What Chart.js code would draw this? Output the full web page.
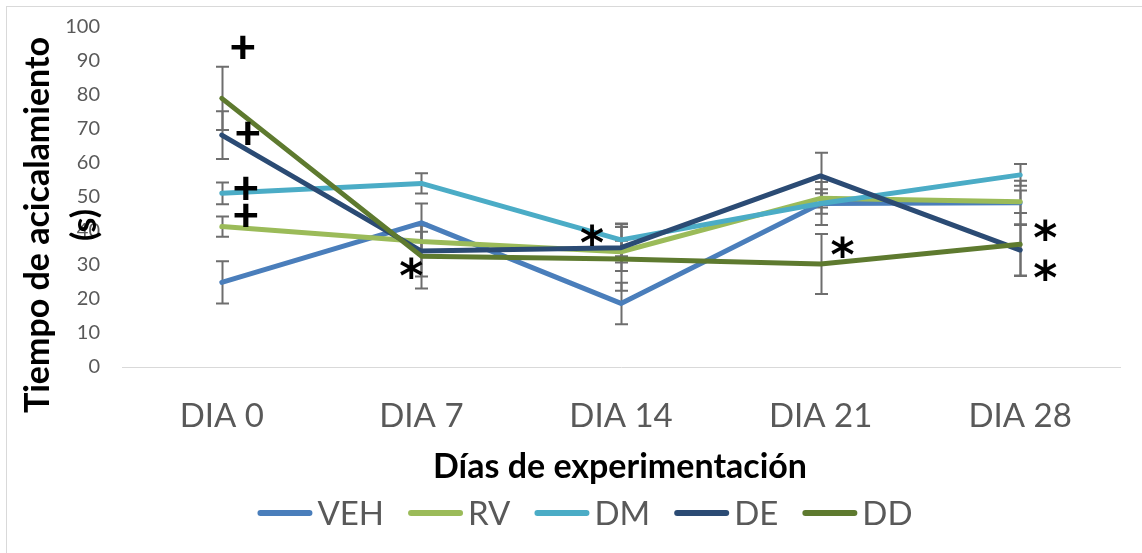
<!DOCTYPE html>
<html>
<head>
<meta charset="utf-8">
<script src="https://cdn.jsdelivr.net/npm/chart.js@4.4.0/dist/chart.umd.min.js"></script>
<style>
  html, body { margin: 0; padding: 0; background: #ffffff; }
  #wrap { width: 1142px; height: 553px; position: relative; overflow: hidden; }
</style>
</head>
<body>
<div id="wrap"><canvas id="chart" width="1142" height="553"></canvas></div>
<script>
// Categories and series (grooming time, seconds)
const categories = ['DIA 0', 'DIA 7', 'DIA 14', 'DIA 21', 'DIA 28'];
const seriesNames = ['VEH', 'RV', 'DM', 'DE', 'DD'];

const vehValues = [24.9, 42.4, 18.7, 48.1, 48.3];
const rvValues  = [41.3, 36.9, 33.9, 49.6, 48.6];
const dmValues  = [51.1, 54.0, 37.4, 48.1, 56.5];
const deValues  = [68.2, 34.1, 35.1, 56.2, 34.4];
const ddValues  = [79.0, 32.6, 31.8, 30.3, 36.1];

// Error bar half-lengths (±)
const vehErrors = [6.2, 5.7, 6.1, 3.0, 6.5];
const rvErrors  = [3.0, 2.9, 3.2, 2.7, 3.3];
const dmErrors  = [3.2, 3.0, 4.8, 6.3, 3.2];
const deErrors  = [7.0, 7.5, 6.9, 6.8, 7.6];
const ddErrors  = [9.3, 9.5, 9.4, 8.8, 9.2];

const yTickValues = [0, 10, 20, 30, 40, 50, 60, 70, 80, 90, 100];

// Significance marks: symbol, category index, value level
const markSymbols = ['+', '+', '+', '+', '*', '*', '*', '*', '*'];
const markCategory = [0, 0, 0, 0, 1, 2, 3, 4, 4];
const markLevel = [94.1, 68.8, 52.6, 44.7, 29.1, 38.8, 35.3, 40.3, 28.5];

const xTitle = 'Días de experimentación';
const yTitleLines = ['Tiempo de acicalamiento', '(s)'];

// ---- styling ----
const colors = ['#4a7ebb', '#9bbb59', '#4bacc6', '#2b4b74', '#5e7a2f'];
const markShiftX = [21, 26, 24, 24, -10, -29, 22, 25, 25];
const FONT = 'Lato, "Open Sans", sans-serif';
const GREY = '#595959';

const valueSets = [vehValues, rvValues, dmValues, deValues, ddValues];
const errorSets = [vehErrors, rvErrors, dmErrors, deErrors, ddErrors];

const datasets = seriesNames.map((name, i) => ({
  label: name,
  data: valueSets[i],
  errors: errorSets[i],
  borderColor: colors[i],
  backgroundColor: colors[i],
  borderWidth: 5,
  borderCapStyle: 'round',
  borderJoinStyle: 'round',
  pointRadius: 0,
  pointHoverRadius: 0,
  tension: 0,
  fill: false,
  order: seriesNames.length - i
}));

// Error bars drawn underneath the lines
const errorBarPlugin = {
  id: 'errorBars',
  beforeDatasetsDraw(chart) {
    const { ctx, scales: { x, y } } = chart;
    ctx.save();
    ctx.strokeStyle = '#6e6e6e';
    ctx.lineWidth = 2;
    const cap = 6.5;
    chart.data.datasets.forEach(ds => {
      ds.data.forEach((v, j) => {
        const e = ds.errors[j];
        const px = Math.round(x.getPixelForValue(j)) + 0.5;
        const yt = y.getPixelForValue(v + e);
        const yb = y.getPixelForValue(v - e);
        ctx.beginPath();
        ctx.moveTo(px, yt); ctx.lineTo(px, yb);
        ctx.moveTo(px - cap, yt); ctx.lineTo(px + cap, yt);
        ctx.moveTo(px - cap, yb); ctx.lineTo(px + cap, yb);
        ctx.stroke();
      });
    });
    ctx.restore();
  }
};

// Frame, axis titles, legend and significance marks
const decorPlugin = {
  id: 'decor',
  afterDraw(chart) {
    const { ctx, scales: { x, y } } = chart;
    ctx.save();

    // outer frame
    ctx.strokeStyle = '#d9d9d9';
    ctx.lineWidth = 1;
    ctx.strokeRect(6.5, 6.5, 2000, 2000);

    // y-axis title (two rotated lines)
    ctx.fillStyle = '#000000';
    ctx.font = 'bold 34px ' + FONT;
    ctx.textAlign = 'center';
    ctx.textBaseline = 'middle';
    const yCenters = [38, 85];
    yTitleLines.forEach((t, k) => {
      ctx.save();
      ctx.translate(yCenters[k], 225);
      ctx.rotate(-Math.PI / 2);
      ctx.fillText(t, 0, 0);
      ctx.restore();
    });

    // x-axis title
    ctx.fillText(xTitle, 620, 467);

    // legend
    ctx.font = '33px ' + FONT;
    const sample = 55, textGap = 5, itemGap = 24;
    const widths = chart.data.datasets.map(d => ctx.measureText(d.label).width);
    const total = widths.reduce((s, w) => s + sample + textGap + w, 0) + itemGap * (widths.length - 1);
    let lx = 585 - total / 2;
    const ly = 513;
    chart.data.datasets.forEach((d, i) => {
      ctx.strokeStyle = d.borderColor;
      ctx.lineWidth = 6;
      ctx.lineCap = 'round';
      ctx.beginPath();
      ctx.moveTo(lx + 3, ly); ctx.lineTo(lx + sample - 3, ly);
      ctx.stroke();
      ctx.fillStyle = GREY;
      ctx.textAlign = 'left';
      ctx.textBaseline = 'middle';
      ctx.fillText(d.label, lx + sample + textGap, ly + 1);
      lx += sample + textGap + widths[i] + itemGap;
    });

    // significance marks, visually centred on their level
    ctx.fillStyle = '#000000';
    ctx.textAlign = 'center';
    ctx.textBaseline = 'alphabetic';
    markSymbols.forEach((s, k) => {
      ctx.font = (s === '+' ? '900 46px Lato, sans-serif' : 'bold 46px "DejaVu Sans", sans-serif');
      const m = ctx.measureText(s);
      const px = x.getPixelForValue(markCategory[k]) + markShiftX[k];
      const py = y.getPixelForValue(markLevel[k]);
      const dy = (m.actualBoundingBoxAscent - m.actualBoundingBoxDescent) / 2;
      ctx.fillText(s, px, py + dy);
    });

    ctx.restore();
  }
};

new Chart(document.getElementById('chart'), {
  type: 'line',
  data: { labels: categories, datasets },
  plugins: [errorBarPlugin, decorPlugin],
  options: {
    responsive: false,
    animation: false,
    events: [],
    layout: { autoPadding: false, padding: { top: 27, right: 22, bottom: 0, left: 0 } },
    plugins: {
      legend: { display: false },
      tooltip: { enabled: false },
      title: { display: false }
    },
    scales: {
      x: {
        type: 'category',
        offset: true,
        grid: { display: false, drawTicks: false },
        border: { display: true, color: '#d9d9d9', width: 1 },
        ticks: {
          color: GREY,
          font: { family: FONT, size: 33 },
          padding: 30,
          maxRotation: 0,
          autoSkip: false
        },
        afterFit(scale) {
          scale.height = 186;
          scale.paddingLeft = 0; scale.paddingRight = 0;
        }
      },
      y: {
        min: 0,
        max: 100,
        grid: { display: false, drawTicks: false },
        border: { display: false },
        afterBuildTicks(scale) { scale.ticks = yTickValues.map(v => ({ value: v })); },
        ticks: {
          color: GREY,
          font: { family: FONT, size: 20 },
          padding: 22
        },
        afterFit(scale) {
          scale.width = 122;
          scale.paddingTop = 0; scale.paddingBottom = 0;
        }
      }
    }
  }
});
</script>
</body>
</html>
